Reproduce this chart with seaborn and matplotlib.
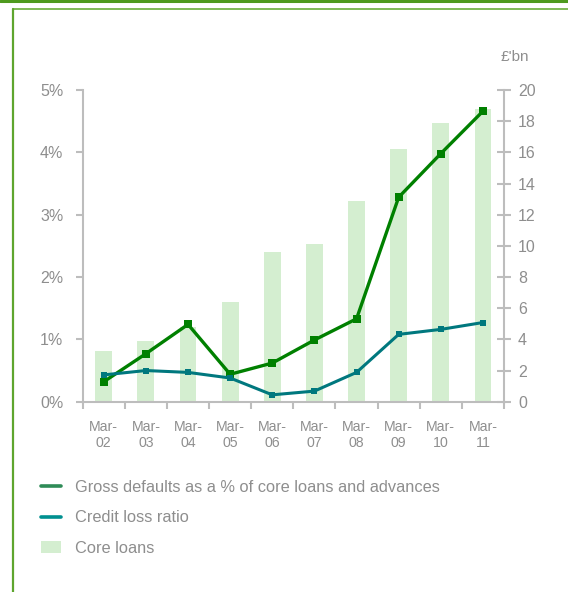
import numpy as np
import pandas as pd
import matplotlib
matplotlib.use("Agg")
import matplotlib.pyplot as plt
from matplotlib.lines import Line2D
from matplotlib.patches import Patch
import seaborn as sns

# ---- data ----
periods = ["Mar-\n02", "Mar-\n03", "Mar-\n04", "Mar-\n05", "Mar-\n06",
           "Mar-\n07", "Mar-\n08", "Mar-\n09", "Mar-\n10", "Mar-\n11"]
core_loans = [3.27, 3.9, 4.8, 6.4, 9.6, 10.1, 12.9, 16.2, 17.9, 18.8]          # £'bn
gross_defaults = [0.32, 0.77, 1.24, 0.44, 0.62, 0.99, 1.33, 3.28, 3.98, 4.66]  # %
credit_loss = [0.43, 0.50, 0.47, 0.38, 0.11, 0.17, 0.47, 1.08, 1.16, 1.27]     # %
left_ticks = [0, 1, 2, 3, 4, 5]
left_labels = ["0%", "1%", "2%", "3%", "4%", "5%"]
right_ticks = [0, 2, 4, 6, 8, 10, 12, 14, 16, 18, 20]
legend_labels = ["Gross defaults as a % of core loans and advances",
                 "Credit loss ratio", "Core loans"]

TEXT = "#8e8e8e"
SPINE = "#bdbdbd"
GREEN = "#008000"
TEAL = "#00787e"
BAR = "#d4eed0"

sns.set_theme(style="white")
plt.rcParams["font.family"] = ["Liberation Sans", "DejaVu Sans"]

fig = plt.figure(figsize=(5.68, 5.92), dpi=100)
ax = fig.add_axes([82.7 / 568, 1 - 401.7 / 592, (504 - 82.7) / 568, (401.7 - 90) / 592])
ax2 = ax.twinx()

df = pd.DataFrame({"period": periods, "loans": core_loans,
                   "gd": gross_defaults, "clr": credit_loss,
                   "pos": np.arange(len(periods))})

# bars on primary axes (drawn behind), scale on right
sns.barplot(data=df, x="period", y="loans", order=periods, color=BAR,
            saturation=1, width=0.4, ax=ax, linewidth=0)
ax.set_ylim(0, 20)
ax.yaxis.tick_right()
ax.yaxis.set_label_position("right")
ax.set_yticks(right_ticks)
ax.set_ylabel("")
ax.set_xlabel("")

# lines on twin axes, scale on left
sns.lineplot(data=df, x="pos", y="gd", ax=ax2, color=GREEN, lw=2.4,
             marker="s", markersize=6, markeredgewidth=0)
sns.lineplot(data=df, x="pos", y="clr", ax=ax2, color=TEAL, lw=2.2,
             marker="s", markersize=4.5, markeredgewidth=0)
ax2.set_ylim(0, 5)
ax2.yaxis.tick_left()
ax2.yaxis.set_label_position("left")
ax2.set_yticks(left_ticks)
ax2.set_yticklabels(left_labels)
ax2.set_ylabel("")
ax2.set_xlabel("")

ax.set_xlim(-0.5, len(periods) - 0.5)
ax2.set_xlim(-0.5, len(periods) - 0.5)

for a in (ax, ax2):
    for s in a.spines.values():
        s.set_visible(False)

ax.spines["bottom"].set_visible(True)
ax.spines["bottom"].set_color(SPINE)
ax.spines["bottom"].set_linewidth(1.5)
ax.spines["right"].set_visible(True)
ax.spines["right"].set_color(SPINE)
ax.spines["right"].set_linewidth(1.5)
ax2.spines["left"].set_visible(True)
ax2.spines["left"].set_color(SPINE)
ax2.spines["left"].set_linewidth(1.5)

ax.set_xticks(np.arange(len(periods)))
ax.set_xticklabels(periods)
ax.set_xticks(np.arange(-0.5, len(periods)), minor=True)
ax.tick_params(axis="x", which="major", length=0, pad=13, labelsize=10.2,
               labelcolor=TEXT)
ax.tick_params(axis="x", which="minor", length=5, width=1.5, color=SPINE,
               direction="out", bottom=True)
ax.tick_params(axis="y", which="major", direction="inout", length=10, width=1.5,
               color=SPINE, labelsize=11.5, labelcolor=TEXT, pad=5, right=True, left=False)
ax2.tick_params(axis="y", which="major", direction="out", length=5, width=1.5,
                color=SPINE, labelsize=11.5, labelcolor=TEXT, pad=9, left=True, right=False)
ax2.tick_params(axis="x", which="both", length=0, labelbottom=False)
for lbl in ax.get_xticklabels():
    lbl.set_linespacing(1.2)

fig.text(515 / 568, 1 - 57 / 592, "£'bn", ha="center", va="center",
         color=TEXT, fontsize=11)

handles = [Line2D([0], [0], color="#2e8b57", lw=2.6),
           Line2D([0], [0], color="#009090", lw=2.6),
           Patch(facecolor=BAR, edgecolor="none")]
fig.legend(handles, legend_labels, loc="upper left",
           bbox_to_anchor=(41 / 568, 1 - 480 / 592), frameon=False,
           fontsize=11.8, labelcolor=TEXT, handlelength=1.25, handletextpad=0.85,
           labelspacing=0.94, borderpad=0, borderaxespad=0)

# frame lines
fig.add_artist(Line2D([0, 1], [1 - 1.2 / 592, 1 - 1.2 / 592], color="#4e9a1e",
                      lw=2.2, transform=fig.transFigure))
fig.add_artist(Line2D([12.5 / 568, 1], [1 - 9 / 592, 1 - 9 / 592], color="#6aae3a",
                      lw=1.2, transform=fig.transFigure))
fig.add_artist(Line2D([12.5 / 568, 12.5 / 568], [0, 1 - 9 / 592], color="#5ea52e",
                      lw=1.6, transform=fig.transFigure))

fig.savefig("out.png", dpi=100)
